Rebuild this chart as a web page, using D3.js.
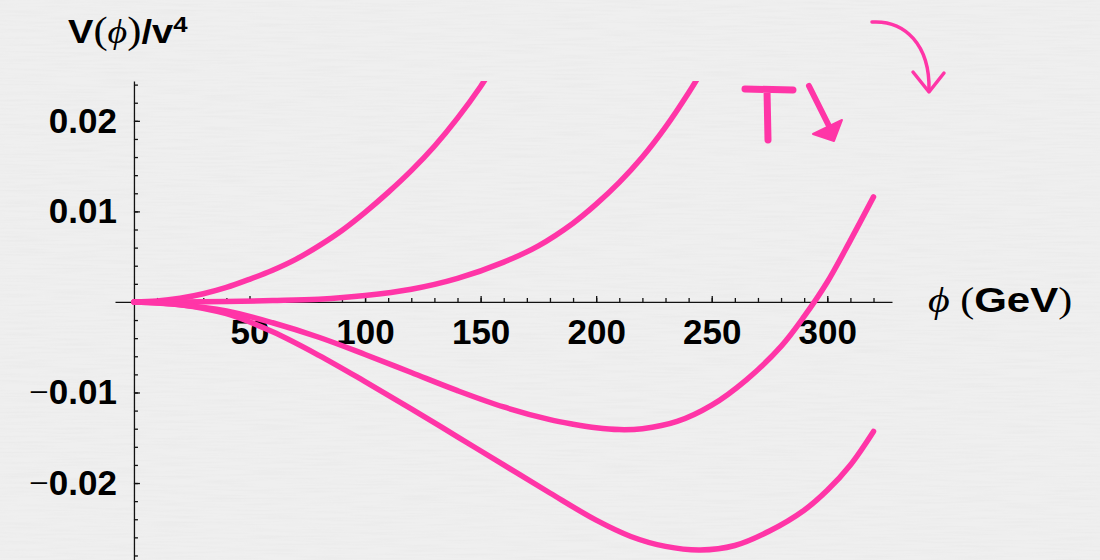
<!DOCTYPE html>
<html lang="en">
<head>
    <meta charset="UTF-8">
    <title>V(phi)/v^4</title>
    <script src="https://d3js.org/d3.v7.min.js"></script>
    <style>
        body { margin: 0; background: #efefef; }
        svg { display: block; }
        .axis path, .axis line { stroke: #111; stroke-width: 1.3; }
        .tick text { font-family: "Liberation Sans", Arial, sans-serif; font-weight: bold; font-size: 35px; fill: #000; }
        .title { font-family: "Liberation Sans", Arial, sans-serif; font-weight: bold; fill: #000; }
        .serif { font-family: "Liberation Serif", "DejaVu Serif", serif; font-weight: normal; }
    </style>
</head>
<body>
    <svg width="1100" height="560"></svg>
    <script>
        // curves, phi in GeV, V/v^4
        const phi1 = [0, 10, 20, 30, 40, 50, 60, 70, 80, 90, 100, 110, 120, 130, 140, 150, 153];
        const v1   = [0, 0.0001, 0.0004, 0.0009, 0.0016, 0.0025, 0.0035, 0.0047, 0.0062, 0.0079, 0.0099, 0.0121, 0.0145, 0.0172, 0.0203, 0.0238, 0.0250];
        const phi2 = [0, 20, 40, 60, 80, 100, 120, 140, 160, 175, 190, 200, 210, 220, 230, 240, 246];
        const v2   = [0, 0.0000, 0.00005, 0.00015, 0.0003, 0.0007, 0.0014, 0.0026, 0.0044, 0.0062, 0.0087, 0.0108, 0.0132, 0.0160, 0.0193, 0.0231, 0.0256];
        const phi3 = [0, 20, 40, 60, 80, 100, 120, 140, 160, 180, 190, 200, 210, 220, 235, 250, 265, 280, 290, 300, 310, 320];
        const v3   = [0, -0.0003, -0.0010, -0.0023, -0.0039, -0.0058, -0.0078, -0.0098, -0.0116, -0.0130, -0.0135, -0.0139, -0.0141, -0.0140, -0.0132, -0.0114, -0.0086, -0.0049, -0.0016, 0.0022, 0.0068, 0.0116];
        const phi4 = [0, 20, 40, 60, 80, 100, 120, 140, 160, 180, 200, 215, 230, 245, 260, 275, 290, 300, 310, 320];
        const v4   = [0, -0.0003, -0.0013, -0.0033, -0.0059, -0.0088, -0.0118, -0.0149, -0.0180, -0.0211, -0.0241, -0.0259, -0.0270, -0.0274, -0.0269, -0.0253, -0.0230, -0.0208, -0.0180, -0.0143];

        const xTicks = [50, 100, 150, 200, 250, 300];
        const yTicks = [-0.02, -0.01, 0.01, 0.02];

        const pink = "#ff35a7";
        const svg = d3.select('svg');

        // paper background
        const defs = svg.append("defs");
        const f = defs.append("filter").attr("id", "paper").attr("x", 0).attr("y", 0).attr("width", "100%").attr("height", "100%");
        f.append("feTurbulence").attr("type", "fractalNoise").attr("baseFrequency", "0.02 0.5").attr("numOctaves", 2).attr("seed", 3);
        f.append("feColorMatrix").attr("values", "0 0 0 0 0.5  0 0 0 0 0.5  0 0 0 0 0.5  0 0 0 -0.9 0.55");
        svg.append("rect").attr("width", 1100).attr("height", 560).attr("fill", "#efefef");
        svg.append("rect").attr("width", 1100).attr("height", 560).attr("filter", "url(#paper)").attr("opacity", 0.18);

        defs.append("clipPath").attr("id", "plot")
            .append("rect").attr("x", 0).attr("y", 81).attr("width", 1100).attr("height", 480);

        // scales
        const x = d3.scaleLinear().domain([-8.2, 328]).range([115, 892]);
        const y = d3.scaleLinear().domain([-0.0285, 0.0244]).range([560, 81]);

        // y axis: ticks point right, labels on the left
        svg.append("g").attr("class", "axis")
            .attr("transform", "translate(" + x(0) + ",0)")
            .call(d3.axisRight(y).tickValues(d3.range(-14, 13).map(i => i * 0.002)).tickSize(4).tickSizeOuter(0).tickFormat(""));
        const yMaj = svg.append("g").attr("class", "axis")
            .attr("transform", "translate(" + x(0) + ",0)")
            .call(d3.axisRight(y).tickValues(yTicks).tickSize(6).tickSizeOuter(0));
        yMaj.select(".domain").remove();
        yMaj.selectAll(".tick text")
            .attr("x", -17).attr("text-anchor", "end")
            .text("")
            .each(function(d) {
                const t = d3.select(this);
                if (d < 0) t.append("tspan").attr("class", "serif").text("\u2212");
                t.append("tspan").text(d3.format(".2f")(Math.abs(d)));
            });

        // x axis: ticks point up, labels below
        svg.append("g").attr("class", "axis")
            .attr("transform", "translate(0," + y(0) + ")")
            .call(d3.axisTop(x).tickValues(d3.range(10, 330, 10)).tickSize(4).tickSizeOuter(0).tickFormat(""));
        const xMaj = svg.append("g").attr("class", "axis")
            .attr("transform", "translate(0," + y(0) + ")")
            .call(d3.axisTop(x).tickValues(xTicks).tickSize(6).tickSizeOuter(0));
        xMaj.select(".domain").remove();
        xMaj.selectAll(".tick text").attr("y", 42).attr("dy", 0);

        // curves
        const line = d3.line()
            .x(d => x(d[0]))
            .y(d => y(d[1]))
            .curve(d3.curveCatmullRom.alpha(0.5));
        const curves = [
            d3.zip(phi1, v1),
            d3.zip(phi2, v2),
            d3.zip(phi3, v3),
            d3.zip(phi4, v4)
        ];
        svg.append("g").attr("clip-path", "url(#plot)")
            .selectAll("path")
            .data(curves)
            .enter()
            .append("path")
            .attr("d", line)
            .attr("fill", "none")
            .attr("stroke", pink)
            .attr("stroke-width", 5.5)
            .attr("stroke-linecap", "round");

        // axis titles (the original lettering is a bit wide, hence the scale)
        const yt = svg.append("text").attr("class", "title")
            .attr("transform", "translate(68,43) scale(1.12,1)").attr("font-size", "34px");
        yt.append("tspan").text("V");
        yt.append("tspan").attr("class", "serif").attr("font-size", "38px").text("(");
        yt.append("tspan").attr("class", "serif").attr("font-style", "italic").text("\u03d5");
        yt.append("tspan").attr("class", "serif").attr("font-size", "38px").text(")");
        yt.append("tspan").text("/v");
        yt.append("tspan").attr("font-size", "23px").attr("dy", -11).text("4");

        const xt = svg.append("text").attr("class", "title")
            .attr("transform", "translate(928,312) scale(1.2,1)").attr("font-size", "35px");
        xt.append("tspan").attr("class", "serif").attr("font-style", "italic").text("\u03d5");
        xt.append("tspan").attr("class", "serif").text(" (");
        xt.append("tspan").text("GeV");
        xt.append("tspan").attr("class", "serif").text(")");

        // hand drawn notes
        const notes = svg.append("g").attr("stroke", pink).attr("fill", "none")
            .attr("stroke-linecap", "round").attr("stroke-linejoin", "round");
        notes.append("path").attr("d", "M745,89 L793,90 M767,90 L768,140").attr("stroke-width", 7);
        notes.append("path").attr("d", "M809,86 L829,126").attr("stroke-width", 6);
        notes.append("path").attr("d", "M813,134 L842,120 L834,141 Z").attr("fill", pink).attr("stroke-width", 2);
        notes.append("path").attr("d", "M872,22 C905,20 930,45 929,90").attr("stroke-width", 3.5);
        notes.append("path").attr("d", "M913,72 L929,92 L944,73").attr("stroke-width", 3.5);
    </script>
</body>
</html>
